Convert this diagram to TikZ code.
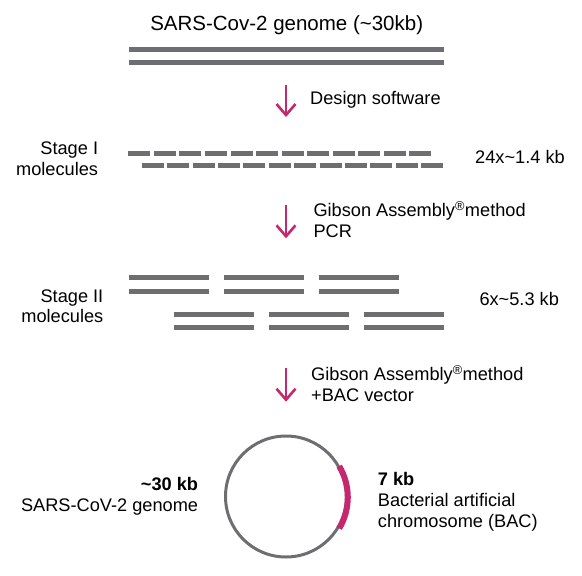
\documentclass[tikz,border=0pt]{standalone}
\usepackage{fontspec}
\setmainfont{Liberation Sans}
\usetikzlibrary{arrows.meta}
\definecolor{dnagray}{RGB}{109,110,113}
\definecolor{stepmag}{RGB}{198,40,110}
\tikzset{
    >={Straight Barb[length=11pt,width=19pt]},
    strand/.style={draw=dnagray,line width=5pt},
    flow/.style={draw=stepmag,->,line width=2.6pt},
    lbl/.style={font=\fontsize{18.2}{20.7}\selectfont,inner sep=0pt}
}

\begin{document}
\begin{tikzpicture}[x=1pt,y=-1pt,
                    title/.style={font=\fontsize{20.5}{24}\selectfont,inner sep=0pt},
                    bacarc/.style={draw=stepmag,line width=6pt}]
\useasboundingbox (0,0) rectangle (582,576);

% Genome
\node[title,anchor=base] (genome) at (286.7,30.6) {SARS-Cov-2 genome (\textasciitilde30kb)};
\draw[strand] (129,49) -- (444,49);
\draw[strand] (129,62) -- (444,62);

% Stage I
\foreach \i in {0,...,11} {
    \draw[strand] ({128.3+25.55*\i},153) -- +(22,0);
    \draw[strand] ({141.7+25.4*\i},165.5) -- +(22,0);
}
\node[lbl,anchor=base east,align=right] (stage1) at (98.3,175.5) {Stage I\\molecules};
\node[lbl,anchor=base west] (size1) at (475,163.2) {24x\textasciitilde1.4 kb};

% Stage II
\foreach \i in {0,1,2} {
    \draw[strand] ({129+95*\i},277.5) -- +(79.5,0);
    \draw[strand] ({129+95*\i},291) -- +(79.5,0);
    \draw[strand] ({174+95*\i},314.5) -- +(80,0);
    \draw[strand] ({174+95*\i},327.7) -- +(80,0);
}
\node[lbl,anchor=base east,align=right] (stage2) at (103.5,322.8) {Stage II\\molecules};
\node[lbl,anchor=base west] (size2) at (479.3,305.8) {6x\textasciitilde5.3 kb};

% BAC
\node[circle,draw=dnagray,line width=3pt,minimum size=121pt,inner sep=0pt] (bac) at (286,496.5) {};
\draw[bacarc] (bac.-31) arc[start angle=-31,end angle=31,radius=60.5pt];
\node[lbl,anchor=base east,align=right] (genlbl) at (198.3,511.5) {\textbf{\textasciitilde30 kb}\\SARS-CoV-2 genome};
\node[lbl,anchor=base west,align=left] (baclbl) at (377.7,527.2) {\textbf{7 kb}\\Bacterial artificial\\chromosome (BAC)};

% Steps
\coordinate (s1a) at (286,85);
\coordinate (s1b) at (286,117);
\coordinate (s2a) at (286,205);
\coordinate (s2b) at (286,238.3);
\coordinate (s3a) at (286,368.3);
\coordinate (s3b) at (286,401.7);
\draw[flow] (s1a) -- (s1b);
\draw[flow] (s2a) -- (s2b);
\draw[flow] (s3a) -- (s3b);
\node[lbl,anchor=base west] (design) at (310,104.2) {Design software};
\node[lbl,anchor=base west,align=left] (gibson1) at (313.3,237.5) {Gibson Assembly\textsuperscript{®}method\\PCR};
\node[lbl,anchor=base west,align=left] (gibson2) at (311,401.5) {Gibson Assembly\textsuperscript{®}method\\+BAC vector};

\end{tikzpicture}
\end{document}
